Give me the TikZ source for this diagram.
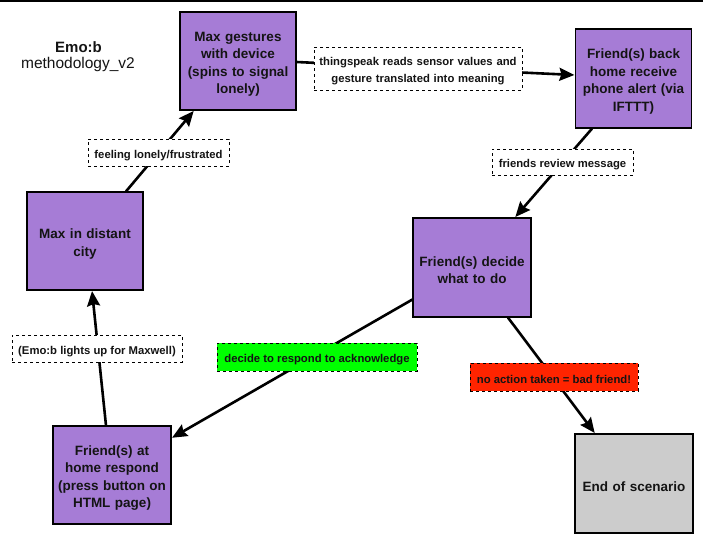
\documentclass[tikz,border=0pt]{standalone}
\usepackage{fontspec}
\setmainfont{Liberation Sans}
\usetikzlibrary{arrows.meta,calc}
\definecolor{boxpurple}{RGB}{166,124,214}
\definecolor{endgray}{RGB}{204,204,204}
\definecolor{lblgreen}{RGB}{0,255,0}
\definecolor{lblred}{RGB}{255,36,0}
\definecolor{txt}{RGB}{20,20,20}
\tikzset{
  stepbox/.style={draw=black, line width=1.2pt, fill=boxpurple, align=center, inner sep=0pt,
    text width=116pt, minimum width=116pt,
    text=txt, font=\fontsize{13.5}{17.5}\selectfont\bfseries,
    execute at begin node={\rule{0pt}{15.5pt}}},
  lbl/.style={draw=black, dashed, line width=0.8pt, fill=white, align=center, inner sep=0pt,
    text=txt, font=\fontsize{11.3}{16.5}\selectfont\bfseries,
    execute at begin node={\rule{0pt}{13.5pt}}},
  conn/.style={line width=2.6pt, -{Stealth[length=15pt,width=13pt,inset=2pt]}, shorten >=0.5pt},
}
\begin{document}
\begin{tikzpicture}[x=1pt,y=-1pt]
\useasboundingbox (0,0) rectangle (703,544);
\fill[black] (0,0) rectangle (703,2.2);
% title
\node[font=\fontsize{15}{18}\selectfont\bfseries, text=txt] (title) at (78.5,47) {Emo:b};
\node[font=\fontsize{15.5}{18}\selectfont, text=txt] (subtitle) at (78,64.5) {methodology\_v2};
% boxes
\node[stepbox, minimum height=98pt] (b1) at (238,61) {Max gestures\\with device\\(spins to signal\\lonely)};
\node[stepbox, minimum height=99pt] (b2) at (633.5,78.5) {Friend(s) back\\home receive\\phone alert (via\\IFTTT)};
\node[stepbox, minimum height=98pt] (b3) at (85,241) {Max in distant\\city};
\node[stepbox, text width=118pt, minimum width=118pt, minimum height=98pt] (b4) at (112,475) {Friend(s) at\\home respond\\(press button on\\HTML page)};
\node[stepbox, text width=118pt, minimum width=118pt, minimum height=99pt] (b5) at (472,267.5) {Friend(s) decide\\what to do};
\node[stepbox, fill=endgray, text width=118pt, minimum width=118pt, minimum height=99pt, execute at begin node={\rule{0pt}{10pt}}] (b6) at (634,483.5) {End of scenario};
% connectors
\draw[conn] ([xshift=41pt]b3.north) -- ([xshift=-44pt]b1.south);
\draw[conn] ([yshift=-1pt]b1.east) -- ([yshift=3.5pt]b2.west);
\draw[conn] ([xshift=-41.5pt]b2.south) -- ([xshift=43pt]b5.north);
\draw[conn] ([yshift=-32pt]b5.west) -- ([yshift=37pt]b4.east);
\draw[conn] ([xshift=36pt]b5.south) -- ([xshift=-39pt]b6.north);
\draw[conn] ([xshift=-6pt]b4.north) -- ([xshift=7pt]b3.south);
% labels
\node[lbl, text width=208pt, minimum width=208pt, minimum height=43pt] (l1) at (418,68.5) {thingspeak reads sensor values and\\gesture translated into meaning};
\node[lbl, minimum width=141pt, minimum height=27pt] (l2) at (158.5,152.5) {feeling lonely/frustrated};
\node[lbl, minimum width=141pt, minimum height=26pt] (l3) at (562.5,162) {friends review message};
\node[lbl, minimum width=170pt, minimum height=27pt] (l4) at (97,348.5) {(Emo:b lights up for Maxwell)};
\node[lbl, fill=lblgreen, minimum width=200pt, minimum height=28pt] (l5) at (317,357) {decide to respond to acknowledge};
\node[lbl, fill=lblred, minimum width=168pt, minimum height=28pt] (l6) at (554,377) {no action taken = bad friend!};
\end{tikzpicture}
\end{document}
